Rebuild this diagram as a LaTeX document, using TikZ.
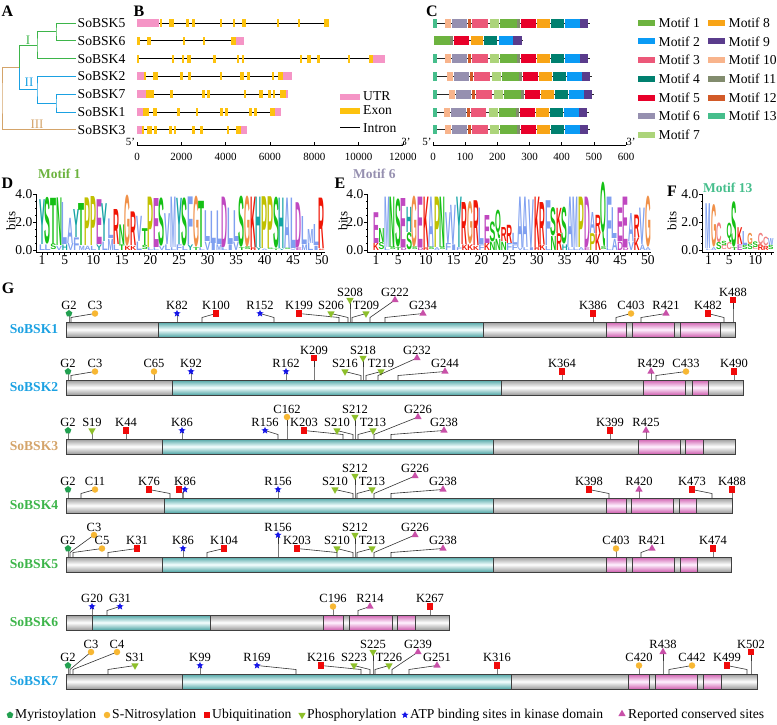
\documentclass[tikz,border=0pt]{standalone}
\usepackage{fontspec}
\setmainfont{Liberation Serif}
\newfontfamily\logofont{Liberation Sans}
\usepackage{graphicx}
\usetikzlibrary{shapes.geometric}

% clade, gene and motif colours
\definecolor{cladeIc}{HTML}{3DB54A}
\definecolor{cladeIIc}{HTML}{1BA1E2}
\definecolor{cladeIIIc}{HTML}{D4A46A}
\definecolor{utrc}{HTML}{F595C6}
\definecolor{exonc}{HTML}{FDC20E}
\definecolor{mot1}{HTML}{6DB33F}
\definecolor{mot2}{HTML}{0A9BF5}
\definecolor{mot3}{HTML}{EC5879}
\definecolor{mot4}{HTML}{00806F}
\definecolor{mot5}{HTML}{E8002A}
\definecolor{mot6}{HTML}{9690B0}
\definecolor{mot7}{HTML}{ACD47A}
\definecolor{mot8}{HTML}{F8A416}
\definecolor{mot9}{HTML}{5A3C8C}
\definecolor{mot10}{HTML}{F8B48C}
\definecolor{mot11}{HTML}{828C6E}
\definecolor{mot12}{HTML}{D25A28}
\definecolor{mot13}{HTML}{46BE8C}
% amino acid colours
\definecolor{aaA}{HTML}{80A0F0}\definecolor{aaF}{HTML}{80A0F0}
\definecolor{aaI}{HTML}{80A0F0}\definecolor{aaL}{HTML}{80A0F0}
\definecolor{aaM}{HTML}{80A0F0}\definecolor{aaV}{HTML}{80A0F0}
\definecolor{aaW}{HTML}{80A0F0}\definecolor{aaC}{HTML}{F08080}
\definecolor{aaD}{HTML}{C048C0}\definecolor{aaE}{HTML}{C048C0}
\definecolor{aaG}{HTML}{F09048}\definecolor{aaH}{HTML}{15A4A4}
\definecolor{aaY}{HTML}{15A4A4}\definecolor{aaK}{HTML}{F01505}
\definecolor{aaR}{HTML}{F01505}\definecolor{aaN}{HTML}{15C015}
\definecolor{aaQ}{HTML}{15C015}\definecolor{aaS}{HTML}{15C015}
\definecolor{aaT}{HTML}{15C015}\definecolor{aaP}{HTML}{C0C000}
% site colours
\definecolor{myrc}{HTML}{22A050}
\definecolor{nitc}{HTML}{F7B733}
\definecolor{ubic}{HTML}{F00A0A}
\definecolor{phosc}{HTML}{8DBF2A}
\definecolor{atpc}{HTML}{1515E8}
\definecolor{consc}{HTML}{C850A8}
\definecolor{barg}{HTML}{9A9A9A}
\definecolor{bart}{HTML}{4FA5A5}
\definecolor{barp}{HTML}{CF5FAF}

\tikzset{
  panelmark/.style={font=\fontsize{16}{18}\selectfont\bfseries, inner sep=0pt},
  genelbl/.style={font=\fontsize{13.6}{15}\selectfont, inner sep=1.5pt, anchor=west},
  leglbl/.style={font=\fontsize{13.6}{15}\selectfont, inner sep=0pt, anchor=west},
  tickl/.style={font=\fontsize{11}{13}\selectfont, inner sep=0pt},
  logotick/.style={font=\fontsize{13.5}{15}\selectfont, inner sep=0pt},
  motiftitle/.style={font=\fontsize{13.5}{15}\selectfont\bfseries, inner sep=0pt, anchor=west},
  axisln/.style={draw=black, line width=0.7pt},
  intronln/.style={draw=black, line width=0.8pt},
  backbone/.style={draw=black!85, line width=0.9pt},
  cladeI/.style={draw=cladeIc, line width=1pt},
  cladeII/.style={draw=cladeIIc, line width=1pt},
  cladeIII/.style={draw=cladeIIIc, line width=1pt},
  aalet/.style={inner sep=0pt, outer sep=0pt, anchor=south},
  protlbl/.style={font=\fontsize{13.6}{15}\selectfont\bfseries, inner sep=0pt},
  sitelbl/.style={font=\fontsize{12.5}{14}\selectfont, inner sep=0pt, anchor=base},
  sitestem/.style={draw=black!80, line width=0.6pt},
  segline/.style={draw=black!75, line width=0.7pt},
  gseg/.style={top color=barg, bottom color=barg, middle color=white},
  tseg/.style={top color=bart, bottom color=bart, middle color=cyan!4},
  pseg/.style={top color=barp, bottom color=barp, middle color=magenta!5},
  myr/.style={regular polygon, regular polygon sides=5, fill=myrc, inner sep=0pt, minimum size=7pt},
  nit/.style={circle, fill=nitc, inner sep=0pt, minimum size=6.5pt},
  ubi/.style={rectangle, fill=ubic, inner sep=0pt, minimum size=6.5pt},
  phos/.style={regular polygon, regular polygon sides=3, shape border rotate=180, fill=phosc, inner sep=0pt, minimum size=8.5pt},
  atp/.style={star, star points=5, star point ratio=2.3, fill=atpc, inner sep=0pt, minimum size=7.5pt},
  cons/.style={regular polygon, regular polygon sides=3, fill=consc, inner sep=0pt, minimum size=8.5pt}
}

% one gene row of panel B: y, end, UTR list, exon list
\newcommand\generow[4]{%
  \draw[intronln] (137,#1) -- (#2,#1);
  \foreach \ga/\gb in {#3} \fill[utrc] (\ga,#1-4) rectangle (\gb,#1+4);
  \foreach \ga/\gb in {#4} \fill[exonc] (\ga,#1-4) rectangle (\gb,#1+4);
}

% one protein row of panel G: index, bar top, name, colour, segments, sites
\newcommand\protrow[6]{%
  \node[protlbl, text=#4] (p#1) at (34,#2+7.5) {#3};
  \foreach \sa/\sb/\sc in {#5} {
    \shade[\sc] (\sa,#2) rectangle (\sb,#2+15);
    \draw[segline] (\sa,#2) rectangle (\sb,#2+15);
  }
  \foreach \ty/\bx/\mx/\lv/\sl [count=\i] in {#6} {
    \pgfmathsetmacro\dy{8.5+13.5*(\lv-1)}
    \coordinate (b#1-\i) at (\bx,#2);
    \coordinate (k#1-\i) at (\mx,#2-\dy);
    \draw[sitestem] (b#1-\i) -- ++(0,-4.5) -- (k#1-\i);
    \node[\ty] (m#1-\i) at (k#1-\i) {};
    \node[sitelbl] (l#1-\i) at (\mx,#2-\dy-4) {\sl};
  }
}

% y axis and position axis of a sequence logo
\newcommand\logoaxis[6]{%
  \draw[axisln] (#2,194) -- (#2,252) -- ({#3+(#5-1)*#4+3},252);
  \foreach \yv/\yl in {194/4.0, 222/2.0, 250/0.0} {
    \draw[axisln] (#2,\yv) -- ++(-3,0);
    \node[logotick, anchor=east] (#1y\yv) at (#2-3.5,\yv) {\yl};
  }
  \foreach \yv in {201,208,215,229,236,243} \draw[axisln] (#2,\yv) -- ++(-1.5,0);
  \foreach \n in {1,...,#5} \draw[axisln] ({#3+(\n-1)*#4},252) -- ++(0,2.5);
  \foreach \n in {#6} \node[logotick, anchor=north] (#1x\n) at ({#3+(\n-1)*#4},255.5) {\n};
}

\begin{document}
\begin{tikzpicture}[x=1pt, y=-1pt]
\useasboundingbox (0,0) rectangle (777,724);

% ---------- A: tree ----------
\node[panelmark] (pa) at (7.5,11) {A};
\node[genelbl] (t5) at (76,23) {SoBSK5};
\node[genelbl] (t6) at (76,40.8) {SoBSK6};
\node[genelbl] (t4) at (76,58.6) {SoBSK4};
\node[genelbl] (t2) at (76,76.4) {SoBSK2};
\node[genelbl] (t7) at (76,94.2) {SoBSK7};
\node[genelbl] (t1) at (76,112) {SoBSK1};
\node[genelbl] (t3) at (76,129.8) {SoBSK3};
\draw[cladeI] (t5.west) -| (56,31.9) |- (t6.west);
\draw[cladeI] (56,31.9) -| (37,45.2) |- (t4.west);
\draw[cladeI] (37,45.2) -| (19,67.5);
\draw[cladeII] (t7.west) -| (56,103.1) |- (t1.west);
\draw[cladeII] (t2.west) -| (37,89.75) |- (56,103.1);
\draw[cladeII] (37,89.75) -| (19,67.5);
\draw[cladeIII] (19,67.5) -| (2,98) |- (t3.west);
\node[font=\fontsize{13}{15}\selectfont, text=cladeIc] (cI) at (28,40) {I};
\node[font=\fontsize{13}{15}\selectfont, text=cladeIIc] (cII) at (29,82) {II};
\node[font=\fontsize{13}{15}\selectfont, text=cladeIIIc] (cIII) at (37,124.5) {III};

% ---------- B: gene structure ----------
\node[panelmark] (pb) at (139,11) {B};
\generow{23}{329}{137/159}{160/161.5, 169/174, 186/189, 192/194.5, 220/222, 233/235, 242/246, 277/279, 298/300, 324/329}
\generow{40.8}{244}{236/244}{137/140, 147/151, 183/185, 203/205, 231/236}
\generow{58.6}{385}{373/385}{137/139, 172/173.5, 182/184, 187/191, 213/216, 237/239, 242/244, 300/302, 307/311, 317/320, 348/350, 369/373}
\generow{76.4}{292}{137/144, 283/292}{144/146, 153/158, 180/183, 188/191, 220/222, 240/244, 247/250, 272/274, 278/283}
\generow{94.2}{288}{137/146, 286/288}{146/154, 170/173, 202/205, 207/210, 244/245.5, 259/263, 268/271, 273/275, 280/286}
\generow{112}{281}{137/143, 275/281}{143/149, 153/157, 177/180, 196/198, 220/223, 225/228, 249/252, 254/257, 270/275}
\generow{129.8}{247}{137/142, 241/247}{142/144, 147/152, 154/157, 169/172, 174/176, 192/195, 200/203, 227/229, 236/241}
\fill[utrc] (340,93.5) rectangle (360,99.5);
\node[leglbl] (lutr) at (363,96.5) {UTR};
\fill[exonc] (340,107.5) rectangle (360,113.5);
\node[leglbl] (lexon) at (363,110.5) {Exon};
\draw[intronln] (340,127.7) -- (360,127.7);
\node[leglbl] (lintron) at (363,127.7) {Intron};
\draw[axisln] (137,145) -- (403,145);
\foreach \v [count=\j] in {0,2000,...,12000} {
  \draw[axisln] ({137+(\j-1)*44.33},145) -- ++(0,-3.5);
  \node[tickl] (bt\j) at ({137+(\j-1)*44.33},156.5) {\v};
}
\node[tickl] (b5p) at (130.5,141.5) {5'};
\node[tickl] (b3p) at (406,141.5) {3'};

% ---------- C: motifs ----------
\node[panelmark] (pc) at (432,11) {C};
\foreach \ry/\off in {23/0, 58.6/0, 76.4/2, 94.2/4, 112/-1.5, 129.8/0} {
  \draw[backbone] (433,\ry) -- (590+\off,\ry);
  \fill[mot13] (433,\ry-4.5) rectangle (436.5,\ry+4.5);
  \foreach \ma/\mb/\mk in {445/451/10, 452/467/6, 468/471/12, 472/487.5/3, 490/499/7, 500/517/1, 517/520/11, 521/536/5, 537/550/8, 551/564/4, 565/580/2, 580/588/9}
    \fill[fill=mot\mk] (\ma+\off,\ry-4.5) rectangle (\mb+\off,\ry+4.5);
}
\draw[backbone] (434,40.8) -- (523,40.8);
\foreach \ma/\mb/\mk in {434/450/1, 450/453/11, 454/469/5, 470.5/483/8, 484/497/4, 499/513/2, 513/522/9}
  \fill[fill=mot\mk] (\ma,36.3) rectangle (\mb,45.3);
\foreach \k in {1,...,7} {
  \fill[fill=mot\k] (638,{22.7+18.7*(\k-1)-3}) rectangle (655,{22.7+18.7*(\k-1)+3});
  \node[leglbl] (lm\k) at (658.5,{22.7+18.7*(\k-1)}) {Motif \k};
}
\foreach \k in {8,...,13} {
  \fill[fill=mot\k] (708,{22.7+18.7*(\k-8)-3}) rectangle (725,{22.7+18.7*(\k-8)+3});
  \node[leglbl] (lm\k) at (728.5,{22.7+18.7*(\k-8)}) {Motif \k};
}
\draw[axisln] (433,145) -- (626,145);
\foreach \v [count=\j] in {0,100,...,600} {
  \draw[axisln] ({433+(\j-1)*32.17},145) -- ++(0,-3.5);
  \node[tickl] (ct\j) at ({433+(\j-1)*32.17},156.5) {\v};
}
\node[tickl] (c5p) at (427,141.5) {5'};
\node[tickl] (c3p) at (631,141.5) {3'};

% ---------- D: motif 1 logo ----------
\node[panelmark] (pd) at (7.5,183) {D};
\node[motiftitle, text=mot1] (td) at (38,174) {Motif 1};
\node[font=\fontsize{13}{15}\selectfont, rotate=90] (bd) at (11,221) {bits};
\logoaxis{d}{36}{42}{5.71}{50}{1,5,10,...,50}
\foreach \ua/\uh/\la/\lh [count=\i] in {Y/3.2/L/0.4, S/3.3/L/0.4, T/3.3/S/0.4, N/3.4/V/0.3, L/3.0/H/0.4, A/1.8/V/0.5, Y/2.0/F/0.9, T/3.0/M/0.3, P/3.4/A/0.3, P/3.5/L/0.3, E/3.2/Y/0.4, Y/2.7/L/0.6, L/1.4/M/0.8, R/2.5/L/0.4, N/1.4/T/0.4, G/3.6/K/0.3, R/2.4/K/0.3, V/1.8/L/0.6, T/1.2/S/0.3, P/3.6/L/0.2, E/3.5/L/0.2, S/3.4/V/0.3, V/2.2/L/0.4, M/3.6/L/0.2, Y/3.3/F/0.4, S/3.4/L/0.3, F/3.4/Y/0.4, G/3.6/T/0.2, T/3.3/L/0.2, L/2.2/V/0.6, L/2.3/I/0.5, L/2.4/M/0.4, D/3.6/L/0.2, L/2.6/I/0.4, L/2.2/V/0.6, S/3.6/T/0.2, G/3.6/S/0.2, K/3.6/R/0.2, H/3.6/Y/0.2, P/3.7/A/0.1, P/3.7/S/0.1, S/3.6/T/0.1, H/3.6/Y/0.1, A/3.6/S/0.1, L/3.6/V/0.1, D/3.2/E/0.2, L/2.0/M/0.4, M/1.0/L/0.5, L/1.5/I/0.3, R/3.6/K/0.1} {
  \pgfmathsetmacro\xx{42+(\i-1)*5.71}
  \pgfmathsetmacro\uhh{\uh*14}
  \pgfmathsetmacro\lhh{\lh*14}
  \node[aalet] (d\i-lo) at (\xx,250) {\resizebox{6pt}{\lhh pt}{\logofont\bfseries\color{aa\la}\la}};
  \node[aalet] (d\i-up) at (d\i-lo.north) {\resizebox{6pt}{\uhh pt}{\logofont\bfseries\color{aa\ua}\ua}};
}

% ---------- E: motif 6 logo ----------
\node[panelmark] (pe) at (340,183) {E};
\node[motiftitle, text=mot6] (te) at (353,174) {Motif 6};
\node[font=\fontsize{13}{15}\selectfont, rotate=90] (be) at (343,221) {bits};
\logoaxis{e}{367}{376}{5.55}{50}{1,5,10,...,50}
\foreach \ua/\uh/\la/\lh [count=\i] in {E/2.2/K/0.5, N/1.0/S/0.5, M/3.6/L/0.2, N/3.6/S/0.2, S/3.4/T/0.2, E/3.5/D/0.2, H/1.8/S/1.2, G/3.6/S/0.2, E/3.6/D/0.2, K/3.6/R/0.2, A/3.6/S/0.2, P/3.6/A/0.2, N/3.6/S/0.2, V/2.2/F/0.5, V/2.8/I/0.4, Y/3.6/F/0.2, R/3.0/K/0.4, G/3.0/K/0.4, R/3.2/K/0.3, L/2.6/F/0.4, E/2.0/K/0.5, S/1.4/N/0.6, Q/1.6/N/0.8, R/1.0/N/0.6, R/1.3/F/0.5, L/0.8/F/0.4, A/3.6/V/0.2, A/3.6/L/0.2, V/3.4/I/0.2, K/3.6/R/0.2, R/3.0/K/0.4, F/3.2/L/0.3, S/2.0/N/1.0, K/1.8/R/1.2, S/2.6/H/0.4, A/3.6/L/0.2, M/3.6/L/0.2, P/3.6/A/0.2, D/3.6/E/0.2, A/1.5/P/1.2, R/1.3/K/1.2, Q/3.6/S/0.2, F/3.6/L/0.2, L/2.2/A/0.8, E/2.4/D/0.6, E/3.6/D/0.2, A/2.0/V/0.6, R/1.6/K/0.9, V/2.6/A/0.4, G/3.6/A/0.2} {
  \pgfmathsetmacro\xx{376+(\i-1)*5.55}
  \pgfmathsetmacro\uhh{\uh*14}
  \pgfmathsetmacro\lhh{\lh*14}
  \node[aalet] (e\i-lo) at (\xx,250) {\resizebox{5.8pt}{\lhh pt}{\logofont\bfseries\color{aa\la}\la}};
  \node[aalet] (e\i-up) at (e\i-lo.north) {\resizebox{5.8pt}{\uhh pt}{\logofont\bfseries\color{aa\ua}\ua}};
}

% ---------- F: motif 13 logo ----------
\node[panelmark] (pf) at (672,191.5) {F};
\node[motiftitle, text=mot13] (tf) at (703,188) {Motif 13};
\node[font=\fontsize{13}{15}\selectfont, rotate=90] (bf) at (672,221) {bits};
\logoaxis{f}{702}{708.5}{5.2}{13}{1,5,10}
\foreach \ua/\uh/\la/\lh [count=\i] in {M/3.2/L/0.1, G/3.0/A/0.2, C/1.4/S/0.5, S/0.3/C/0.3, Q/1.1/C/0.5, S/3.2/T/0.2, K/1.2/E/0.4, L/1.0/S/0.3, G/0.8/S/0.4, S/0.4/C/0.2, C/0.8/R/0.4, C/0.6/R/0.3, W/0.5/S/0.3} {
  \pgfmathsetmacro\xx{708.5+(\i-1)*5.2}
  \pgfmathsetmacro\uhh{\uh*14}
  \pgfmathsetmacro\lhh{\lh*14}
  \node[aalet] (f\i-lo) at (\xx,250) {\resizebox{5.4pt}{\lhh pt}{\logofont\bfseries\color{aa\la}\la}};
  \node[aalet] (f\i-up) at (f\i-lo.north) {\resizebox{5.4pt}{\uhh pt}{\logofont\bfseries\color{aa\ua}\ua}};
}

% ---------- G: protein sites ----------
\node[panelmark] (pg) at (8,288) {G};
\protrow{1}{322}{SoBSK1}{cladeIIc}
  {66/158/gseg, 158/483/tseg, 483/606/gseg, 606/626/pseg, 626/632/gseg, 632/674/pseg, 674/680/gseg, 680/720/pseg, 720/735/gseg}
  {myr/69/69/1/G2, nit/71/95/1/C3, atp/177/177/1/K82, ubi/202/216/1/K100, atp/274/260/1/R152, ubi/339/299/1/K199, phos/348/331/1/S206, phos/350/350/2/S208, phos/352/366/1/T209, cons/370/395/2/G222, cons/385/423/1/G234, ubi/593/593/1/K386, nit/616/631/1/C403, cons/641/666/1/R421, ubi/724/708/1/K482, ubi/733/733/2/K488}
\protrow{2}{380}{SoBSK2}{cladeIIc}
  {66/172/gseg, 172/501/tseg, 501/643/gseg, 643/685/pseg, 685/692/gseg, 692/708/pseg, 708/743/gseg}
  {myr/68/68/1/G2, nit/71/95/1/C3, nit/154/154/1/C65, atp/191/191/1/K92, atp/286/286/1/R162, ubi/314/314/2/K209, phos/361/345/1/S216, phos/363/363/2/S218, phos/366/381/1/T219, cons/378/417/2/G232, cons/398/445/1/G244, ubi/562/562/1/K364, cons/651/651/1/R429, nit/656/686/1/C433, ubi/734/734/1/K490}
\protrow{3}{439}{SoBSK3}{cladeIIIc}
  {66/162/gseg, 162/493/tseg, 493/638/gseg, 638/680/pseg, 680/685/gseg, 685/703/pseg, 703/735/gseg}
  {myr/68/68/1/G2, phos/92/92/1/S19, ubi/126/126/1/K44, atp/182/182/1/K86, atp/278/265/1/R156, nit/287/287/2/C162, ubi/343/304/1/K203, phos/353/337/1/S210, phos/355/355/2/S212, phos/358/373/1/T213, cons/374/418/2/G226, cons/391/444/1/G238, ubi/610/610/1/K399, cons/646/646/1/R425}
\protrow{4}{498}{SoBSK4}{cladeIc}
  {66/164/gseg, 164/493/tseg, 493/606/gseg, 606/626/pseg, 626/631/gseg, 631/673/pseg, 673/679/gseg, 679/696/pseg, 696/732/gseg}
  {myr/68/68/1/G2, nit/81/95/1/C11, ubi/170/149/1/K76, ubi/183/179/1/{}, atp/183/185/1/K86, atp/278/278/1/R156, phos/353/335/1/S210, phos/355/355/2/S212, phos/357/372/1/T213, cons/374/415/2/G226, cons/391/443/1/G238, ubi/609/589/1/K398, cons/639/639/1/R420, ubi/712/692/1/K473, ubi/732/732/1/K488}
\protrow{5}{557}{SoBSK5}{cladeIc}
  {66/162/gseg, 162/493/tseg, 493/606/gseg, 606/626/pseg, 626/632/gseg, 632/674/pseg, 674/680/gseg, 680/697/pseg, 697/731/gseg}
  {myr/68/68/1/G2, nit/70/94/2/C3, nit/73/102/1/C5, ubi/108/137/1/K31, atp/183/183/1/K86, ubi/207/224/1/K104, atp/278/278/2/R156, ubi/337/297/1/K203, phos/353/337/1/S210, phos/355/355/2/S212, phos/357/372/1/T213, cons/374/415/2/G226, cons/391/443/1/G238, nit/616/616/1/C403, cons/641/652/1/R421, ubi/713/713/1/K474}
\protrow{6}{615}{SoBSK6}{cladeIc}
  {66/92/gseg, 92/210/tseg, 210/323/gseg, 323/343/pseg, 343/349/gseg, 349/392/pseg, 392/397/gseg, 397/415/pseg, 415/449/gseg}
  {atp/92/92/1/G20, atp/107/120/1/G31, nit/333/333/1/C196, cons/358/370/1/R214, ubi/430/430/1/K267}
\protrow{7}{674}{SoBSK7}{cladeIIc}
  {66/182/gseg, 182/511/tseg, 511/628/gseg, 628/649/pseg, 649/655/gseg, 655/697/pseg, 697/703/gseg, 703/721/pseg, 721/757/gseg}
  {myr/68/68/1/G2, nit/70/91/2/C3, nit/73/117/2/C4, phos/108/135/1/S31, atp/200/200/1/K99, atp/296/257/1/R169, ubi/361/321/1/K216, phos/370/354/1/S223, phos/373/373/2/S225, phos/375/389/1/T226, cons/392/418/2/G239, cons/409/437/1/G251, ubi/497/497/1/K316, nit/639/639/1/C420, cons/663/663/2/R438, nit/669/692/1/C442, ubi/747/727/1/K499, ubi/751/751/2/K502}

% legend of site types
\node[myr] (lg1) at (10,715) {};
\node[leglbl] (lt1) at (15,715) {Myristoylation};
\node[nit] (lg2) at (107,715) {};
\node[leglbl] (lt2) at (112,715) {S-Nitrosylation};
\node[ubi] (lg3) at (207,715) {};
\node[leglbl] (lt3) at (212,715) {Ubiquitination};
\node[phos] (lg4) at (302,715) {};
\node[leglbl] (lt4) at (307,715) {Phosphorylation};
\node[atp] (lg5) at (405,715) {};
\node[leglbl] (lt5) at (410,715) {ATP binding sites in kinase domain};
\node[cons] (lg6) at (622,714) {};
\node[leglbl] (lt6) at (628,715) {Reported conserved sites};
\end{tikzpicture}
\end{document}
